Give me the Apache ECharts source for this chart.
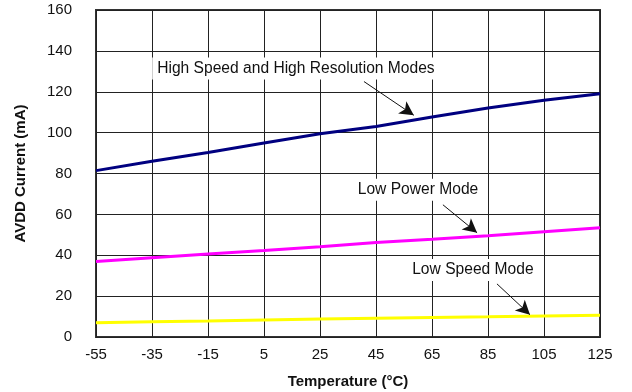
<!DOCTYPE html>
<html>
<head>
<meta charset="utf-8">
<script src="https://cdn.jsdelivr.net/npm/echarts@6/dist/echarts.min.js"></script>
<style>
  html, body { margin: 0; padding: 0; background: #fff; }
  #chart { width: 632px; height: 392px; }
</style>
</head>
<body>
<div id="chart"></div>
<script>
// temperature points (°C)
const temps = [-55, -35, -15, 5, 25, 45, 65, 85, 105, 125]
// AVDD current (mA) per mode
const highSpeed = [81.4, 86, 90.3, 94.9, 99.4, 103, 107.6, 112, 115.8, 119]
const lowPower = [36.9, 38.8, 40.6, 42.3, 44.2, 46.2, 47.8, 49.6, 51.5, 53.4]
const lowSpeed = [7.0, 7.5, 7.8, 8.3, 8.8, 9.2, 9.6, 9.9, 10.3, 10.6]

// callout text, placed in data units [temp, mA]
const noteText = ['High Speed and High Resolution Modes', 'Low Power Mode', 'Low Speed Mode']
const noteAt = [[16.4, 131.4], [60, 72], [79.6, 32.8]]
// arrows from text to curve, [from, to] in data units
const arrowFrom = [[40.7, 125], [68.9, 64.7], [88.2, 26]]
const arrowTo = [[58.5, 108.5], [81.1, 51], [100, 10.9]]

const font = '"Liberation Sans", Arial, sans-serif'

let chart = echarts.init(document.getElementById('chart'))

const pairs = (xs, ys) => xs.map((x, i) => [x, ys[i]])

let option = {
    animation: false,
    textStyle: { fontFamily: font },
    grid: {
        left: 96, right: 32, top: 10, bottom: 55,
        outerBoundsMode: 'none',
        containLabel: false,
        show: true, borderColor: '#333', borderWidth: 2
    },
    xAxis: {
        type: 'value',
        min: -55, max: 125, interval: 20,
        name: 'Temperature (°C)',
        nameLocation: 'middle',
        nameGap: 37,
        nameTextStyle: { fontWeight: 'bold', fontSize: 15, color: '#111' },
        axisLine: { show: false },
        axisTick: { show: false },
        axisLabel: { fontSize: 15, color: '#111', margin: 10 },
        splitLine: { lineStyle: { color: '#222', width: 1 } }
    },
    yAxis: {
        type: 'value',
        min: 0, max: 160, interval: 20,
        name: 'AVDD Current (mA)',
        nameLocation: 'middle',
        nameGap: 68,
        nameTextStyle: { fontWeight: 'bold', fontSize: 15, color: '#111' },
        axisLine: { show: false },
        axisTick: { show: false },
        axisLabel: { fontSize: 15, color: '#111', margin: 24 },
        splitLine: { lineStyle: { color: '#222', width: 1 } }
    },
    series: [
        {
            name: 'High Speed',
            type: 'line',
            data: pairs(temps, highSpeed),
            showSymbol: false,
            lineStyle: { color: '#000080', width: 3 },
            z: 3
        },
        {
            name: 'Low Power',
            type: 'line',
            data: pairs(temps, lowPower),
            showSymbol: false,
            lineStyle: { color: '#ff00ff', width: 3 },
            z: 3
        },
        {
            name: 'Low Speed',
            type: 'line',
            data: pairs(temps, lowSpeed),
            showSymbol: false,
            lineStyle: { color: '#ffff00', width: 3 },
            z: 3
        },
        {
            // callouts
            name: 'notes',
            type: 'scatter',
            data: [],
            z: 4,
            markPoint: {
                symbol: 'rect',
                symbolSize: 0,
                data: noteText.map((t, i) => ({ coord: noteAt[i], value: t })),
                label: {
                    show: true,
                    position: 'inside',
                    formatter: p => p.value,
                    fontSize: 15.6,
                    color: '#111',
                    fontFamily: font,
                    backgroundColor: '#fff',
                    padding: [3, 5]
                }
            },
            markLine: {
                silent: true,
                symbol: ['none', 'arrow'],
                symbolSize: [11, 14],
                label: { show: false },
                lineStyle: { color: '#111', width: 1, type: 'solid' },
                data: arrowFrom.map((a, i) => [{ coord: a }, { coord: arrowTo[i] }])
            }
        }
    ]
}
chart.setOption(option)
</script>
</body>
</html>
